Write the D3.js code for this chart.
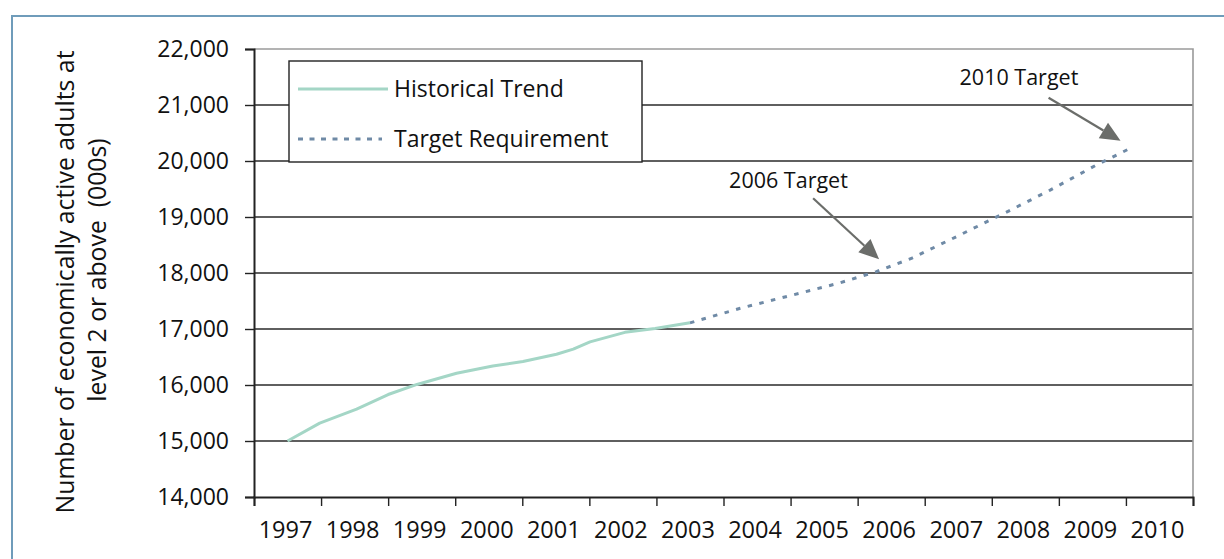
<!DOCTYPE html>
<html>
<head>
<meta charset="utf-8">
<script src="https://cdn.jsdelivr.net/npm/d3@7"></script>
<style>
  html, body { margin: 0; padding: 0; background: #fff; }
  svg { display: block; }
</style>
</head>
<body>
<svg id="chart"></svg>
<script>
// ── Data ────────────────────────────────────────────────────────────────────
const years = [1997, 1998, 1999, 2000, 2001, 2002, 2003, 2004, 2005, 2006, 2007, 2008, 2009, 2010];
const yTicks = [14000, 15000, 16000, 17000, 18000, 19000, 20000, 21000, 22000];

// [year, thousands of adults]
const historical = [
  [1997.0, 15000], [1997.48, 15320], [1998.03, 15570], [1998.5, 15830],
  [1998.93, 16010], [1999.52, 16210], [2000.06, 16340], [2000.51, 16420],
  [2001.01, 16550], [2001.26, 16640], [2001.51, 16770], [2002.03, 16940],
  [2002.48, 17010], [2003.0, 17110],
];
const target = [
  [2003.0, 17110], [2003.75, 17370], [2004.49, 17595], [2005.21, 17815],
  [2005.78, 18025], [2006.31, 18265], [2007.0, 18665], [2007.7, 19075],
  [2008.37, 19480], [2009.04, 19915], [2009.56, 20225],
];

const annotations = [
  { label: '2006 Target', year: 2005.82, value: 18245, dx: -66, dy: -61, tx: -150, ty: -71 },
  { label: '2010 Target', year: 2009.42, value: 20362, dx: -72, dy: -43, tx: -161, ty: -56 },
];

const legendItems = [
  { name: 'Historical Trend',   color: '#a4d6c6', dash: null },
  { name: 'Target Requirement', color: '#6f8aa6', dash: '5,6.5' },
];

// ── Layout ──────────────────────────────────────────────────────────────────
const W = 1224, H = 559;
const plot = { left: 254, top: 49, right: 1193, bottom: 497 };
const FONT = "'Open Sans', sans-serif";

const svg = d3.select('#chart').attr('width', W).attr('height', H);
svg.append('rect').attr('width', W).attr('height', H).attr('fill', '#fff');

// outer frame (runs off the right and bottom edges)
svg.append('rect')
  .attr('x', 12).attr('y', 16)
  .attr('width', 1300).attr('height', 700)
  .attr('fill', 'none')
  .attr('stroke', '#6f9cba')
  .attr('stroke-width', 2);

const x = d3.scaleLinear()
  .domain([years[0] - 0.5, years[years.length - 1] + 0.5])
  .range([plot.left, plot.right]);
const y = d3.scaleLinear()
  .domain([yTicks[0], yTicks[yTicks.length - 1]])
  .range([plot.bottom, plot.top]);

// ── Grid + plot border ──────────────────────────────────────────────────────
svg.append('g')
  .selectAll('line')
  .data(yTicks.slice(1, -1))
  .join('line')
    .attr('x1', plot.left).attr('x2', plot.right)
    .attr('y1', d => y(d)).attr('y2', d => y(d))
    .attr('stroke', '#2a2a2a')
    .attr('stroke-width', 1.4);

svg.append('path')
  .attr('d', `M${plot.left},${plot.top}H${plot.right}V${plot.bottom}`)
  .attr('fill', 'none')
  .attr('stroke', '#9a9a9a')
  .attr('stroke-width', 1.6);

// ── Axes ────────────────────────────────────────────────────────────────────
const yAxis = svg.append('g')
  .attr('transform', `translate(${plot.left},0)`)
  .call(d3.axisLeft(y).tickValues(yTicks).tickSize(9).tickPadding(16)
    .tickFormat(d3.format(',')));

const xAxis = svg.append('g')
  .attr('transform', `translate(0,${plot.bottom})`)
  .call(d3.axisBottom(x)
    .tickValues(d3.range(years[0] - 0.5, years[years.length - 1] + 1, 1))
    .tickSize(9).tickFormat(''));

[yAxis, xAxis].forEach(a => {
  a.select('.domain').attr('stroke', '#222').attr('stroke-width', 2);
  a.selectAll('.tick line').attr('stroke', '#222').attr('stroke-width', 1.4);
});
yAxis.selectAll('.tick text')
  .attr('font-family', FONT).attr('font-size', 23).attr('fill', '#111');

svg.append('g')
  .selectAll('text')
  .data(years)
  .join('text')
    .attr('x', d => x(d) - 2)
    .attr('y', 538)
    .attr('text-anchor', 'middle')
    .attr('font-family', FONT)
    .attr('font-size', 23.5)
    .attr('fill', '#111')
    .text(d => d);

// y title, two lines
const titleLines = [
  { text: 'Number of economically active adults at', x: 74, cy: 282 },
  { text: 'level 2 or above  (000s)', x: 106, cy: 270 },
];
svg.append('g')
  .selectAll('text')
  .data(titleLines)
  .join('text')
    .attr('transform', d => `translate(${d.x},${d.cy}) rotate(-90)`)
    .attr('text-anchor', 'middle')
    .attr('font-family', FONT)
    .attr('font-size', 24.8)
    .attr('fill', '#111')
    .style('white-space', 'pre')
    .text(d => d.text);

// ── Lines ───────────────────────────────────────────────────────────────────
const line = d3.line().x(d => x(d[0])).y(d => y(d[1]));

svg.append('path')
  .datum(target)
  .attr('d', line)
  .attr('fill', 'none')
  .attr('stroke', legendItems[1].color)
  .attr('stroke-width', 3)
  .attr('stroke-dasharray', '4.5,7.5');

svg.append('path')
  .datum(historical)
  .attr('d', line)
  .attr('fill', 'none')
  .attr('stroke', legendItems[0].color)
  .attr('stroke-width', 3)
  .attr('stroke-linejoin', 'round');

// ── Annotations (arrow + label) ─────────────────────────────────────────────
const ARROW = '#6b6d6a';
annotations.forEach(a => {
  const tipX = x(a.year), tipY = y(a.value);
  const sx = tipX + a.dx, sy = tipY + a.dy;
  const len = Math.hypot(a.dx, a.dy);
  const ux = -a.dx / len, uy = -a.dy / len;     // unit vector toward tip
  const headLen = 20, half = 9;
  const bx = tipX - ux * headLen, by = tipY - uy * headLen;

  svg.append('line')
    .attr('x1', sx).attr('y1', sy).attr('x2', bx).attr('y2', by)
    .attr('stroke', ARROW).attr('stroke-width', 2.2);
  svg.append('path')
    .attr('d', `M${tipX},${tipY}L${bx - uy * half},${by + ux * half}L${bx + uy * half},${by - ux * half}Z`)
    .attr('fill', ARROW);
  svg.append('text')
    .attr('x', tipX + a.tx).attr('y', tipY + a.ty)
    .attr('font-family', FONT).attr('font-size', 21.5).attr('fill', '#111')
    .text(a.label);
});

// ── Legend ──────────────────────────────────────────────────────────────────
const legend = svg.append('g').attr('transform', 'translate(289,61)');
legend.append('rect')
  .attr('width', 353).attr('height', 101)
  .attr('fill', '#fff').attr('stroke', '#222').attr('stroke-width', 1.4);

const rows = legend.selectAll('g.row')
  .data(legendItems)
  .join('g')
    .attr('class', 'row')
    .attr('transform', (d, i) => `translate(0,${28 + i * 50})`);
rows.append('line')
  .attr('x1', 9).attr('x2', (d) => d.dash ? 93 : 99)
  .attr('stroke', d => d.color).attr('stroke-width', 3)
  .attr('stroke-dasharray', d => d.dash);
rows.append('text')
  .attr('x', 105).attr('y', 7.5)
  .attr('font-family', FONT).attr('font-size', 23).attr('fill', '#111')
  .text(d => d.name);
</script>
</body>
</html>
